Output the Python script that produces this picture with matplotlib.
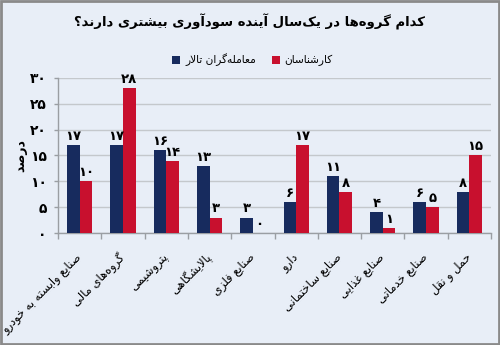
import matplotlib
matplotlib.use("Agg")
import matplotlib.pyplot as plt
from matplotlib.patches import Rectangle
from matplotlib.transforms import ScaledTranslation

# ---- data -------------------------------------------------------------
title = "کدام گروه‌ها در یک‌سال آینده سودآوری بیشتری دارند؟"
series_names = ["معامله‌گران تالار", "کارشناسان"]
y_label = "درصد"
categories = [
    "صنایع وابسته به خودرو",
    "گروه‌های مالی",
    "پتروشیمی",
    "پالایشگاهی",
    "صنایع فلزی",
    "دارو",
    "صنایع ساختمانی",
    "صنایع غذایی",
    "صنایع خدماتی",
    "حمل و نقل",
]
traders = [17, 17, 16, 13, 3, 6, 11, 4, 6, 8]
experts = [10, 28, 14, 3, 0, 17, 8, 1, 5, 15]
y_ticks = [0, 5, 10, 15, 20, 25, 30]

# ---- minimal Arabic-script shaping (contextual forms + RTL order) ------
FORMS = {
    "ا": ("\uFE8D", "\uFE8E"), "آ": ("\uFE81", "\uFE82"),
    "د": ("\uFEA9", "\uFEAA"), "ذ": ("\uFEAB", "\uFEAC"),
    "ر": ("\uFEAD", "\uFEAE"), "ز": ("\uFEAF", "\uFEB0"),
    "ژ": ("\uFB8A", "\uFB8B"), "و": ("\uFEED", "\uFEEE"),
    "ب": ("\uFE8F", "\uFE90", "\uFE91", "\uFE92"),
    "پ": ("\uFB56", "\uFB57", "\uFB58", "\uFB59"),
    "ت": ("\uFE95", "\uFE96", "\uFE97", "\uFE98"),
    "ث": ("\uFE99", "\uFE9A", "\uFE9B", "\uFE9C"),
    "ج": ("\uFE9D", "\uFE9E", "\uFE9F", "\uFEA0"),
    "چ": ("\uFB7A", "\uFB7B", "\uFB7C", "\uFB7D"),
    "ح": ("\uFEA1", "\uFEA2", "\uFEA3", "\uFEA4"),
    "خ": ("\uFEA5", "\uFEA6", "\uFEA7", "\uFEA8"),
    "س": ("\uFEB1", "\uFEB2", "\uFEB3", "\uFEB4"),
    "ش": ("\uFEB5", "\uFEB6", "\uFEB7", "\uFEB8"),
    "ص": ("\uFEB9", "\uFEBA", "\uFEBB", "\uFEBC"),
    "ض": ("\uFEBD", "\uFEBE", "\uFEBF", "\uFEC0"),
    "ط": ("\uFEC1", "\uFEC2", "\uFEC3", "\uFEC4"),
    "ظ": ("\uFEC5", "\uFEC6", "\uFEC7", "\uFEC8"),
    "ع": ("\uFEC9", "\uFECA", "\uFECB", "\uFECC"),
    "غ": ("\uFECD", "\uFECE", "\uFECF", "\uFED0"),
    "ف": ("\uFED1", "\uFED2", "\uFED3", "\uFED4"),
    "ق": ("\uFED5", "\uFED6", "\uFED7", "\uFED8"),
    "ک": ("\uFB8E", "\uFB8F", "\uFB90", "\uFB91"),
    "گ": ("\uFB92", "\uFB93", "\uFB94", "\uFB95"),
    "ل": ("\uFEDD", "\uFEDE", "\uFEDF", "\uFEE0"),
    "م": ("\uFEE1", "\uFEE2", "\uFEE3", "\uFEE4"),
    "ن": ("\uFEE5", "\uFEE6", "\uFEE7", "\uFEE8"),
    "ه": ("\uFEE9", "\uFEEA", "\uFEEB", "\uFEEC"),
    "ی": ("\uFBFC", "\uFBFD", "\uFBFE", "\uFBFF"),
}
LAM_ALEF = {"ا": ("\uFEFB", "\uFEFC"), "آ": ("\uFEF5", "\uFEF6")}


def dual(c):
    return c in FORMS and len(FORMS[c]) == 4


def shape(text):
    out = []
    i, n = 0, len(text)
    while i < n:
        c = text[i]
        if c not in FORMS:
            if c != "\u200c":
                out.append(c)
            i += 1
            continue
        prev = text[i - 1] if i > 0 else ""
        nxt = text[i + 1] if i + 1 < n else ""
        joined_before = dual(prev)
        if c == "ل" and nxt in LAM_ALEF:
            iso, fin = LAM_ALEF[nxt]
            out.append(fin if joined_before else iso)
            i += 2
            continue
        joined_after = dual(c) and nxt in FORMS
        f = FORMS[c]
        if joined_before and joined_after:
            g = f[3]
        elif joined_before:
            g = f[1]
        elif joined_after:
            g = f[2]
        else:
            g = f[0]
        out.append(g)
        i += 1
    return "".join(reversed(out))


def fa_num(v):
    return str(v).translate(str.maketrans("0123456789", "۰۱۲۳۴۵۶۷۸۹"))


# ---- figure -----------------------------------------------------------
plt.rcParams["font.family"] = ["DejaVu Sans"]
BG = "#e8eef7"
NAVY = "#172b5e"
RED = "#c8102e"
GRID = "#c4c8cc"
AXIS = "#9a9ea3"

fig = plt.figure(figsize=(5.0, 3.45), dpi=100, facecolor=BG)
fig.patches.append(Rectangle((0.002, 0.003), 0.996, 0.994, transform=fig.transFigure,
                             fill=False, edgecolor="#8a8a8a", linewidth=2.0))

ax = fig.add_axes([0.116, 0.3246, 0.866, 0.4494])
ax.set_facecolor(BG)

x = list(range(len(categories)))
w = 0.29
b1 = ax.bar([i - w / 2 for i in x], traders, width=w, color=NAVY, zorder=3,
            label=shape(series_names[0]))
b2 = ax.bar([i + w / 2 for i in x], experts, width=w, color=RED, zorder=3,
            label=shape(series_names[1]))

for bars, vals in ((b1, traders), (b2, experts)):
    for rect, v in zip(bars, vals):
        ax.annotate(fa_num(v), (rect.get_x() + rect.get_width() / 2, rect.get_height()),
                    xytext=(0, 1.5), textcoords="offset points", ha="center", va="bottom",
                    fontsize=9.5, fontweight="bold", color="black", zorder=4)

ax.set_xlim(-0.5, len(categories) - 0.5)
ax.set_ylim(0, 30)
ax.set_yticks(y_ticks)
ax.set_yticklabels([fa_num(t) for t in y_ticks], fontsize=10, fontweight="bold")
ax.yaxis.grid(True, color=GRID, linewidth=1.0, zorder=0)
ax.set_axisbelow(True)

ax.set_xticks(x)
ax.set_xticklabels([shape(c) for c in categories], rotation=45, ha="right",
                   va="center", rotation_mode="anchor", fontsize=8.3)
shift = ScaledTranslation(4 / 100, 0, fig.dpi_scale_trans)
for lbl in ax.get_xticklabels():
    lbl.set_transform(lbl.get_transform() + shift)
ax.tick_params(axis="x", length=0, pad=16)
ax.set_xticks([i + 0.5 for i in range(-1, len(categories))], minor=True)
ax.tick_params(axis="x", which="minor", length=4, color=AXIS, width=1)
ax.tick_params(axis="y", length=3, color=AXIS, width=1, pad=5)

for s in ("top", "right"):
    ax.spines[s].set_visible(False)
for s in ("left", "bottom"):
    ax.spines[s].set_color(AXIS)
    ax.spines[s].set_linewidth(1.0)

ax.set_ylabel(shape(y_label), fontsize=9, fontweight="bold", labelpad=2)

fig.text(0.5, 0.936, shape(title), ha="center", va="center", fontsize=9.5,
         fontweight="bold")
fig.legend(handles=[b1, b2], loc="center", bbox_to_anchor=(0.505, 0.826), ncol=2,
           frameon=False, fontsize=7.6, handlelength=0.76, handleheight=0.76,
           handletextpad=0.47, columnspacing=1.5)

fig.savefig("out.png", dpi=100, facecolor=BG)
